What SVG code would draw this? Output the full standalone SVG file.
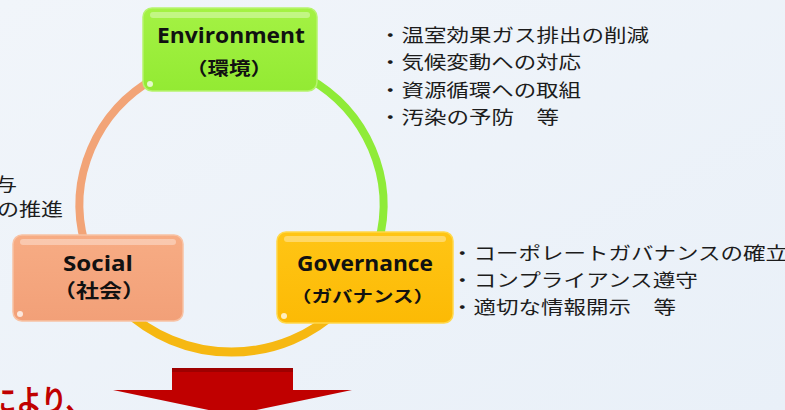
<svg xmlns="http://www.w3.org/2000/svg" width="785" height="410" viewBox="0 0 785 410">
<defs>
<style>
.box-title{font-family:"Open Sans","Noto Sans",sans-serif;font-weight:700;fill:#111;}
.box-sub{font-family:"Noto Sans CJK JP",sans-serif;font-weight:700;fill:#111;}
.note{font-family:"Noto Sans CJK JP",sans-serif;font-size:18px;fill:#1c1c1c;}
.arc{fill:none;stroke-linecap:butt;}
.hl{fill:#fff;opacity:0.35;}
.dot{fill:#fff;opacity:0.75;}
</style>
<linearGradient id="bg" x1="0" y1="0" x2="1" y2="1">
<stop offset="0" stop-color="#F1F5FA"/>
<stop offset="1" stop-color="#E9F0F8"/>
</linearGradient>
<linearGradient id="gEnv" x1="0" y1="0" x2="0" y2="1">
<stop offset="0" stop-color="#A4F244"/>
<stop offset="1" stop-color="#93EA33"/>
</linearGradient>
<linearGradient id="gSoc" x1="0" y1="0" x2="0" y2="1">
<stop offset="0" stop-color="#F7AC84"/>
<stop offset="1" stop-color="#F2A078"/>
</linearGradient>
<linearGradient id="gGov" x1="0" y1="0" x2="0" y2="1">
<stop offset="0" stop-color="#FFC515"/>
<stop offset="1" stop-color="#FCBA05"/>
</linearGradient>
</defs>
<rect x="0" y="0" width="785" height="410" fill="url(#bg)"/>

<g id="connectors">
<path class="arc" d="M155.5,77.7 A152,147 0 0 0 84.7,243" stroke="#F2A477" stroke-width="8"/>
<path class="arc" d="M307.5,77.7 A152,147 0 0 1 378.3,243" stroke="#8FEB38" stroke-width="8"/>
<path class="arc" d="M124,309 A152,147 0 0 0 339,309" stroke="#F6B812" stroke-width="9"/>
</g>

<g id="node-environment">
<rect x="143" y="8" width="174" height="83" rx="9" fill="url(#gEnv)" stroke="#B6F46E" stroke-width="1.5"/>
<rect class="hl" x="150" y="12" width="160" height="6" rx="3"/>
<circle class="dot" cx="150" cy="84" r="3"/>
<text class="box-title" x="157" y="43" font-size="21" textLength="148" lengthAdjust="spacingAndGlyphs">Environment</text>
<text class="box-sub" x="186" y="75" font-size="18" textLength="86" lengthAdjust="spacingAndGlyphs">（環境）</text>
</g>

<g id="node-social">
<rect x="13" y="235" width="170" height="86" rx="9" fill="url(#gSoc)" stroke="#F8C2A4" stroke-width="1.5"/>
<rect class="hl" x="20" y="239" width="156" height="6" rx="3"/>
<circle class="dot" cx="20" cy="314" r="3"/>
<text class="box-title" x="63" y="271" font-size="21" textLength="70" lengthAdjust="spacingAndGlyphs">Social</text>
<text class="box-sub" x="53" y="298" font-size="19" textLength="92" lengthAdjust="spacingAndGlyphs">（社会）</text>
</g>

<g id="node-governance">
<rect x="277" y="232" width="176" height="91" rx="9" fill="url(#gGov)" stroke="#FFD84A" stroke-width="1.5"/>
<rect class="hl" x="284" y="236" width="162" height="6" rx="3"/>
<circle class="dot" cx="284" cy="316" r="3"/>
<text class="box-title" x="297" y="271" font-size="21" textLength="136" lengthAdjust="spacingAndGlyphs">Governance</text>
<text class="box-sub" x="291" y="302" font-size="16" textLength="143" lengthAdjust="spacingAndGlyphs">（ガバナンス）</text>
</g>

<g id="notes-environment">
<text class="note" x="379" y="42" textLength="270" lengthAdjust="spacingAndGlyphs">・温室効果ガス排出の削減</text>
<text class="note" x="379" y="69" textLength="202" lengthAdjust="spacingAndGlyphs">・気候変動への対応</text>
<text class="note" x="379" y="97" textLength="202" lengthAdjust="spacingAndGlyphs">・資源循環への取組</text>
<text class="note" x="379" y="124" textLength="180" lengthAdjust="spacingAndGlyphs">・汚染の予防　等</text>
</g>

<g id="notes-social">
<text class="note" x="-5" y="191" font-size="19" textLength="22" lengthAdjust="spacingAndGlyphs">与</text>
<text class="note" x="-3" y="216" font-size="19" textLength="66" lengthAdjust="spacingAndGlyphs">の推進</text>
</g>

<g id="notes-governance">
<text class="note" x="451" y="260" textLength="337" lengthAdjust="spacingAndGlyphs">・コーポレートガバナンスの確立</text>
<text class="note" x="451" y="287" textLength="247" lengthAdjust="spacingAndGlyphs">・コンプライアンス遵守</text>
<text class="note" x="451" y="314" textLength="225" lengthAdjust="spacingAndGlyphs">・適切な情報開示　等</text>
</g>

<g id="result">
<path d="M172,368 H293 V390 H352 L232.5,415 L113,390 H172 Z" fill="#C00000"/>
<rect x="172" y="368" width="121" height="4" fill="#9E0000"/>
<text x="-9" y="411" font-family="Noto Sans CJK JP, sans-serif" font-weight="700" font-size="30" fill="#C00000" textLength="100" lengthAdjust="spacingAndGlyphs">により、</text>
</g>
</svg>
